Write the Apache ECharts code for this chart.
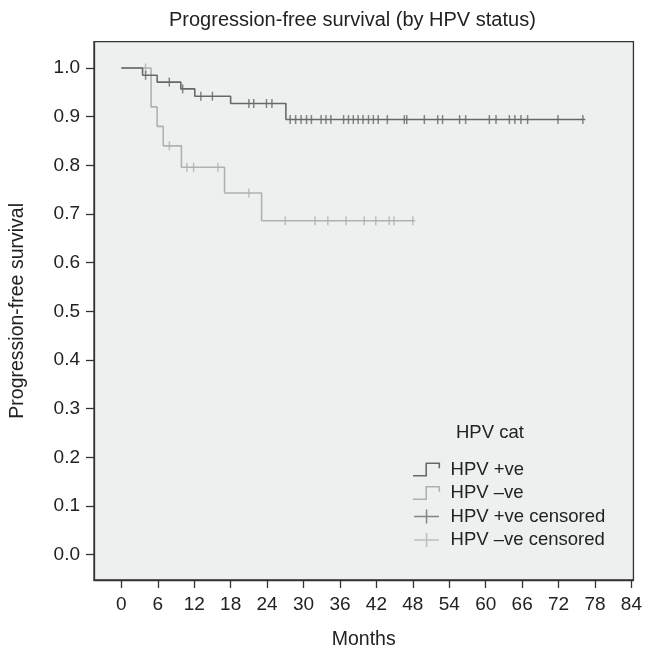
<!DOCTYPE html>
<html>
<head>
<meta charset="utf-8">
<script src="https://cdn.jsdelivr.net/npm/echarts@6/dist/echarts.min.js"></script>
<style>
  html, body { margin: 0; padding: 0; background: #ffffff; }
  #chart { width: 645px; height: 655px; }
</style>
</head>
<body>
<div id="chart"></div>
<script>
// Kaplan-Meier step points (time in months, survival after event)
const posTimes = [0, 3.5, 5.9, 9.8, 12.1, 18.0, 27.1, 76.4];
const posSurv  = [1.0, 0.985, 0.971, 0.957, 0.942, 0.927, 0.894, 0.894];
const negTimes = [0, 4.9, 5.9, 6.9, 9.9, 17.0, 23.1, 48.4];
const negSurv  = [1.0, 0.92, 0.88, 0.84, 0.796, 0.743, 0.686, 0.686];

// Censored observations
const posCensT = [4.0, 7.9, 10.1, 13.1, 15.0, 21.0, 21.8, 23.9, 24.8,
  27.8, 28.7, 29.6, 30.5, 31.3, 32.9, 33.7, 34.5, 36.6, 37.4, 38.2, 39.0,
  39.8, 40.7, 41.5, 42.3, 43.8, 46.6, 47.0, 49.9, 52.1, 52.9, 55.7, 56.7,
  60.6, 61.7, 63.9, 64.8, 65.8, 66.9, 71.9, 76.0];
const posCensS = [0.985, 0.971, 0.957, 0.942, 0.942, 0.927, 0.927, 0.927, 0.927,
  0.894, 0.894, 0.894, 0.894, 0.894, 0.894, 0.894, 0.894, 0.894, 0.894, 0.894, 0.894,
  0.894, 0.894, 0.894, 0.894, 0.894, 0.894, 0.894, 0.894, 0.894, 0.894, 0.894, 0.894,
  0.894, 0.894, 0.894, 0.894, 0.894, 0.894, 0.894, 0.894];
const negCensT = [4.0, 7.9, 10.8, 11.9, 15.9, 21.0, 27.0, 31.9, 34.0, 37.0, 40.0, 41.9, 44.1, 44.9, 48.0];
const negCensS = [1.0, 0.84, 0.796, 0.796, 0.796, 0.743, 0.686, 0.686, 0.686, 0.686, 0.686, 0.686, 0.686, 0.686, 0.686];

// Axis ticks
const xTicks = [0, 6, 12, 18, 24, 30, 36, 42, 48, 54, 60, 66, 72, 78, 84];
const yTicks = [0.0, 0.1, 0.2, 0.3, 0.4, 0.5, 0.6, 0.7, 0.8, 0.9, 1.0];

const seriesNames = ['HPV +ve', 'HPV –ve', 'HPV +ve censored', 'HPV –ve censored'];
const darkColor = '#686868';
const lightColor = '#b0b0b0';

const zip = (a, b) => a.map((v, i) => [v, b[i]]);

const stepIcon = 'path://M0,12 L11,12 L11,1 L24,1 L24,6 L22.6,6 L22.6,2.4 L12.4,2.4 L12.4,13.4 L0,13.4 Z';
const plusIcon = 'path://M0,6 L24,6 L24,7.5 L0,7.5 Z M11.3,0 L12.7,0 L12.7,13.5 L11.3,13.5 Z';

const chart = echarts.init(document.getElementById('chart'), null, { renderer: 'canvas' });
const font = 'Liberation Sans, Arial, Helvetica, sans-serif';

chart.setOption({
  animation: false,
  backgroundColor: '#ffffff',
  textStyle: { fontFamily: font },
  title: [
    {
      text: 'Progression-free survival (by HPV status)',
      left: 169, top: 10.5, padding: 0,
      textStyle: { fontFamily: font, fontSize: 20, fontWeight: 'normal', color: '#222' }
    },
    {
      text: 'HPV cat',
      left: 456, top: 423, padding: 0,
      textStyle: { fontFamily: font, fontSize: 18.5, fontWeight: 'normal', color: '#222' }
    }
  ],
  grid: {
    left: 92.5, right: 10, top: 41.7, bottom: 66.7,
    show: true, backgroundColor: '#eef0f0', borderColor: '#333', borderWidth: 1.3
  },
  legend: {
    orient: 'vertical',
    left: 413, top: 460, padding: 0,
    itemWidth: 38, itemHeight: 14, itemGap: 4.5,
    textStyle: { fontFamily: font, fontSize: 18.5, color: '#222' },
    data: [
      { name: seriesNames[0], icon: stepIcon, itemStyle: { color: darkColor, borderWidth: 0 } },
      { name: seriesNames[1], icon: stepIcon, itemStyle: { color: lightColor, borderWidth: 0 } },
      { name: seriesNames[2], icon: plusIcon, itemStyle: { color: darkColor, borderWidth: 0 } },
      { name: seriesNames[3], icon: plusIcon, itemStyle: { color: lightColor, borderWidth: 0 } }
    ],
    selectedMode: false
  },
  xAxis: {
    type: 'value', min: -4.5, max: 84.33,
    name: 'Months', nameLocation: 'middle', nameGap: 50,
    nameTextStyle: { fontFamily: font, fontSize: 19.5, color: '#222' },
    axisLine: { show: true, onZero: false, lineStyle: { color: '#333', width: 1.3 } },
    axisTick: { show: true, length: 8, customValues: xTicks, lineStyle: { color: '#333', width: 1.3 } },
    axisLabel: { show: true, margin: 15.5, customValues: xTicks, fontSize: 19, color: '#222', fontFamily: font },
    splitLine: { show: false }
  },
  yAxis: {
    type: 'value', min: -0.052, max: 1.054,
    name: 'Progression-free survival', nameLocation: 'middle', nameGap: 66,
    nameTextStyle: { fontFamily: font, fontSize: 19.5, color: '#222' },
    axisLine: { show: true, onZero: false, lineStyle: { color: '#333', width: 1.3 } },
    axisTick: { show: true, length: 8, customValues: yTicks, lineStyle: { color: '#333', width: 1.3 } },
    axisLabel: { show: true, margin: 14, customValues: yTicks, fontSize: 19, color: '#222', fontFamily: font,
      formatter: v => v.toFixed(1) },
    splitLine: { show: false }
  },
  series: [
    {
      name: seriesNames[0], type: 'line', step: 'end', showSymbol: false, symbol: 'none',
      data: zip(posTimes, posSurv), z: 3,
      color: darkColor, lineStyle: { color: darkColor, width: 1.6 }, itemStyle: { color: darkColor }
    },
    {
      name: seriesNames[1], type: 'line', step: 'end', showSymbol: false, symbol: 'none',
      data: zip(negTimes, negSurv), z: 2,
      color: lightColor, lineStyle: { color: lightColor, width: 1.6 }, itemStyle: { color: lightColor }
    },
    {
      name: seriesNames[2], type: 'scatter', symbol: 'rect', symbolSize: [1.5, 9],
      data: zip(posCensT, posCensS), z: 4,
      color: darkColor, itemStyle: { color: darkColor }
    },
    {
      name: seriesNames[3], type: 'scatter', symbol: 'rect', symbolSize: [1.5, 9],
      data: zip(negCensT, negCensS), z: 3,
      color: lightColor, itemStyle: { color: lightColor }
    }
  ]
});
</script>
</body>
</html>
